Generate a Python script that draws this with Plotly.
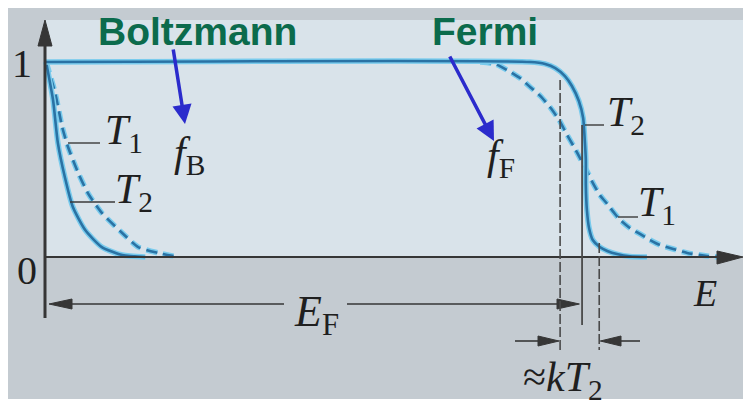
import plotly.graph_objects as go

# ---------------- data (E in units of E_F, f = occupation) ----------------
bz_T1_E = [0.002, 0.019, 0.032, 0.043, 0.062, 0.080, 0.106, 0.144, 0.174, 0.211, 0.248]
bz_T1_f = [1.000, 0.841, 0.667, 0.564, 0.431, 0.328, 0.226, 0.123, 0.051, 0.021, 0.000]

bz_T2_E = [0.002, 0.015, 0.024, 0.037, 0.052, 0.075, 0.106, 0.144, 0.187]
bz_T2_f = [1.000, 0.805, 0.585, 0.410, 0.256, 0.138, 0.051, 0.010, 0.000]

fd_T2_E = [0.000, 0.905, 0.933, 0.952, 0.970, 0.983, 0.996, 1.004, 1.007, 1.009,
           1.009, 1.011, 1.015, 1.022, 1.035, 1.049, 1.067, 1.091, 1.123]
fd_T2_f = [1.000, 1.000, 0.990, 0.969, 0.928, 0.877, 0.800, 0.713, 0.600, 0.497,
           0.369, 0.241, 0.149, 0.087, 0.051, 0.031, 0.015, 0.003, 0.000]

fd_T1_E = [0.812, 0.840, 0.862, 0.886, 0.905, 0.924, 0.942, 0.959, 0.974, 0.987,
           0.998, 1.011, 1.022, 1.035, 1.049, 1.062, 1.073, 1.091, 1.110, 1.129,
           1.147, 1.172, 1.198, 1.235, 1.259]
fd_T1_f = [1.000, 0.990, 0.959, 0.918, 0.872, 0.826, 0.769, 0.703, 0.626, 0.564,
           0.508, 0.441, 0.380, 0.318, 0.272, 0.226, 0.190, 0.149, 0.118, 0.087,
           0.062, 0.041, 0.021, 0.005, 0.000]

E_F = 1.0
kT2_left = 0.961
kT2_right = 1.034

# ---------------- geometry helpers ----------------
W, H = 754, 414
OFF = 8  # page body margin: figure origin sits at (8, 8) on screen
def ex(px):  # screen pixel x -> E
    return (px - 45) / 536.0
def fy(py):  # screen pixel y -> f
    return (257 - py) / 195.0
def PX(x):
    return (x - OFF) / W
def PY(y):
    return 1 - (y - OFF) / H

HALO = "#79cbed"
CORE = "#2a72a4"
AX = "#363636"
DASH = "11px,6px"

fig = go.Figure()

def add_curve(E, f, dashed):
    d = DASH if dashed else "solid"
    fig.add_trace(go.Scatter(x=E, y=f, mode="lines", hoverinfo="skip",
                             line=dict(color=HALO, width=5.5, dash=d, shape="spline", smoothing=0.6)))
    fig.add_trace(go.Scatter(x=E, y=f, mode="lines", hoverinfo="skip",
                             line=dict(color=CORE, width=2.6, dash=d, shape="spline", smoothing=0.6)))

shapes = []
# backgrounds
shapes.append(dict(type="rect", xref="paper", yref="paper", x0=PX(7), x1=PX(743), y0=PY(399), y1=PY(8),
                   fillcolor="#c4cbd1", line=dict(width=0), layer="below"))
shapes.append(dict(type="rect", xref="paper", yref="paper", x0=PX(45), x1=PX(743), y0=PY(257), y1=PY(20),
                   fillcolor="#d9e3ea", line=dict(width=0), layer="below"))

def seg(x0, y0, x1, y1, color=AX, width=1.6, dash="solid"):
    shapes.append(dict(type="line", xref="x", yref="y", x0=x0, y0=y0, x1=x1, y1=y1,
                       line=dict(color=color, width=width, dash=dash)))

def tri(p1, p2, p3, color=AX):
    shapes.append(dict(type="path", xref="x", yref="y",
                       path="M %f,%f L %f,%f L %f,%f Z" % (p1[0], p1[1], p2[0], p2[1], p3[0], p3[1]),
                       fillcolor=color, line=dict(color=color, width=1)))

# y axis
seg(0, fy(318), 0, fy(40), width=3)
tri((0, fy(20)), (ex(38), fy(46)), (ex(52), fy(46)))
# x axis
seg(0, 0, ex(720), 0, width=2)
tri((ex(743), 0), (ex(717), fy(251)), (ex(717), fy(264)))

# E_F double arrow
yEF = fy(304)
seg(ex(60), yEF, ex(284), yEF, width=1.6)
seg(ex(347), yEF, ex(570), yEF, width=1.6)
tri((ex(49), yEF), (ex(72), fy(299)), (ex(72), fy(309)))
tri((E_F * 1.0 - 0.003, yEF), (ex(557), fy(299)), (ex(557), fy(309)))

# kT2 arrows
yk = fy(341)
seg(ex(515), yk, ex(545), yk, width=1.6)
tri((kT2_left - 0.002, yk), (ex(538), fy(336)), (ex(538), fy(346)))
seg(ex(612), yk, ex(640), yk, width=1.6)
tri((kT2_right + 0.002, yk), (ex(621), fy(336)), (ex(621), fy(346)))

# vertical reference lines
seg(kT2_left, fy(80), kT2_left, fy(350), color="#4a4a4a", width=1.6, dash="10px,3px")
seg(E_F + 0.002, fy(125), E_F + 0.002, fy(325), color="#4a4a4a", width=1.8)
seg(kT2_right, fy(243), kT2_right, fy(350), color="#4a4a4a", width=1.6, dash="10px,3px")

# label leader lines
seg(ex(68), fy(143), ex(100), fy(143), color="#3a3a3a", width=1.4)
seg(ex(70), fy(202), ex(115), fy(202), color="#3a3a3a", width=1.4)
seg(ex(585), fy(125), ex(604), fy(125), color="#3a3a3a", width=1.4)
seg(ex(618), fy(217), ex(638), fy(217), color="#3a3a3a", width=1.4)

add_curve(bz_T1_E, bz_T1_f, True)
add_curve(bz_T2_E, bz_T2_f, False)
add_curve(fd_T1_E, fd_T1_f, True)
add_curve(fd_T2_E, fd_T2_f, False)

SERIF = "Liberation Serif"
TXT = "#1f1f1f"
ann = []
def label(text, x, y, size, xanchor="center", yanchor="middle", family=SERIF, color=TXT):
    ann.append(dict(text=text, xref="paper", yref="paper", x=PX(x), y=PY(y), showarrow=False,
                    xanchor=xanchor, yanchor=yanchor, font=dict(family=family, size=size, color=color)))

GREEN = "#0b6b4c"
label("<b>Boltzmann</b>", 197, 31, 39, family="Liberation Sans", color=GREEN)
label("<b>Fermi</b>", 485, 31, 39, family="Liberation Sans", color=GREEN)
label("1", 22, 64, 40)
label("0", 27, 270, 40)
label("<i>T</i><sub>1</sub>", 103, 133, 42, xanchor="left")
label("<i>T</i><sub>2</sub>", 113, 192, 42, xanchor="left")
label("<i>f</i><sub>B</sub>", 172, 155, 42, xanchor="left")
label("<i>f</i><sub>F</sub>", 485, 158, 42, xanchor="left")
label("<i>T</i><sub>2</sub>", 605, 115, 42, xanchor="left")
label("<i>T</i><sub>1</sub>", 636, 205, 42, xanchor="left")
label("<i>E</i><sub>F</sub>", 316, 314, 44)
label("<i>E</i>", 705, 293, 38)
label("\u2248<i>kT</i><sub>2</sub>", 563, 380, 42)

# blue pointer arrows
BLUE = "#2b2bcc"
ann.append(dict(x=PX(185), y=PY(124), xref="paper", yref="paper", ax=173 - 185, ay=48 - 124,
                axref="pixel", ayref="pixel", showarrow=True, arrowhead=2, arrowsize=1.1,
                arrowwidth=3.5, arrowcolor=BLUE, text=""))
ann.append(dict(x=PX(494), y=PY(141), xref="paper", yref="paper", ax=449 - 494, ay=55 - 141,
                axref="pixel", ayref="pixel", showarrow=True, arrowhead=2, arrowsize=1.1,
                arrowwidth=3.5, arrowcolor=BLUE, text=""))

fig.update_layout(
    width=W, height=H, margin=dict(l=0, r=0, t=0, b=0),
    paper_bgcolor="white", plot_bgcolor="rgba(0,0,0,0)",
    showlegend=False, shapes=shapes, annotations=ann,
    xaxis=dict(range=[ex(OFF), ex(OFF + W)], visible=False, fixedrange=True),
    yaxis=dict(range=[fy(OFF + H), fy(OFF)], visible=False, fixedrange=True),
)

fig.write_html("out.html")
